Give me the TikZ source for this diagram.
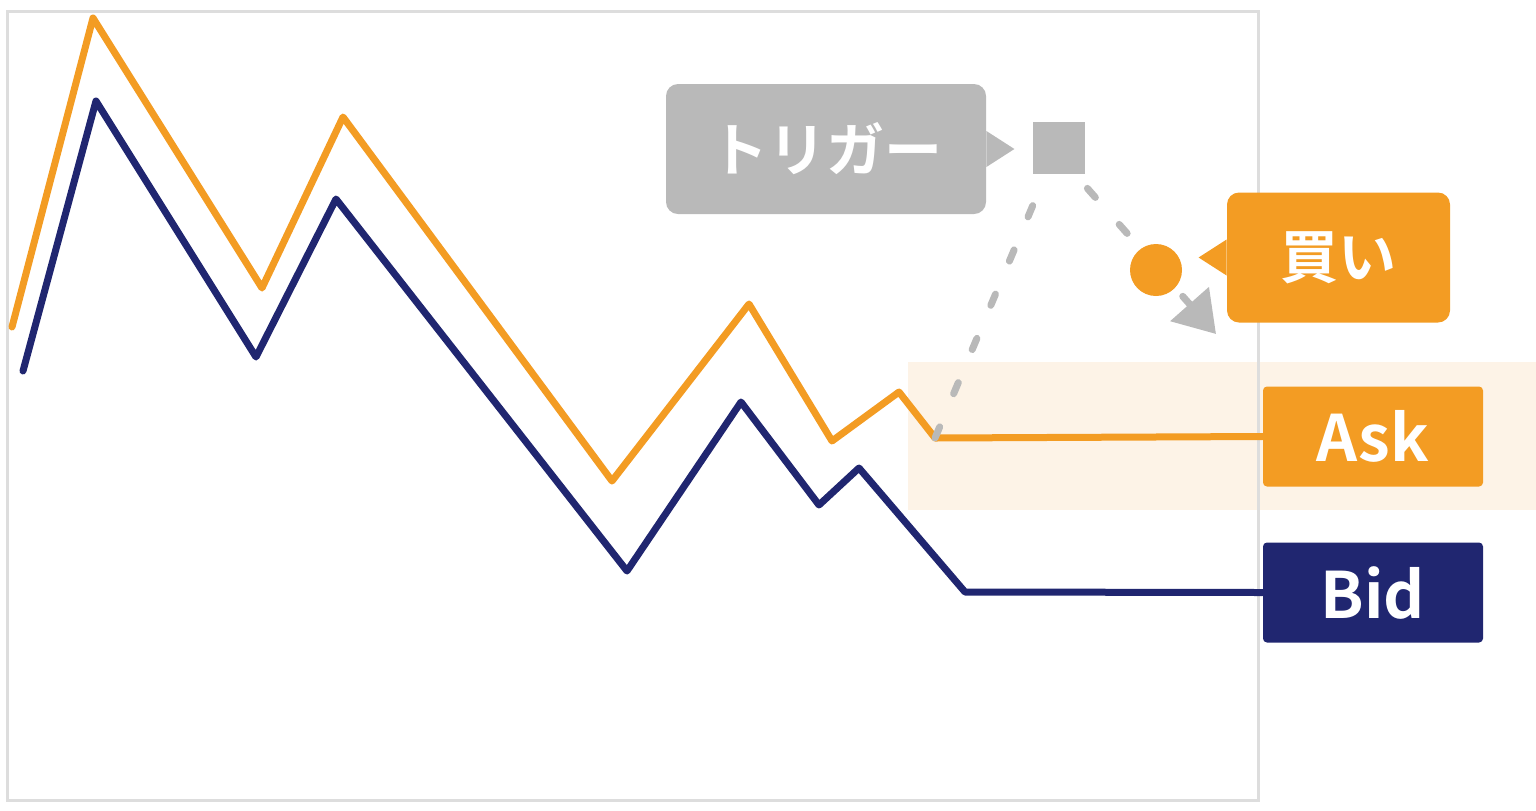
\documentclass[tikz,border=0pt]{standalone}
\usepackage{fontspec}
\setmainfont{Noto Sans CJK JP}[BoldFont={Noto Sans CJK JP Bold}]
\usetikzlibrary{positioning,arrows.meta,calc}
\definecolor{askor}{HTML}{F39C23}
\definecolor{bidnv}{HTML}{202670}
\definecolor{trgry}{HTML}{B9B9B9}
\definecolor{bandc}{HTML}{FDF3E7}
\definecolor{frmc}{HTML}{DDDDDD}

\begin{document}
\begin{tikzpicture}[x=0.5pt,y=-0.5pt,
  tag/.style={rounded corners=2pt,minimum width=110pt,minimum height=50pt,inner sep=0pt,text=white,font=\fontsize{32}{32}\selectfont\bfseries},
  bubble/.style={rounded corners=6pt,minimum height=65pt,inner sep=0pt,text=white,font=\fontsize{29}{29}\selectfont\bfseries},
  price/.style={line width=3.5pt,line join=round,line cap=round},
  hint/.style={trgry,line width=3.5pt,line cap=round,dash pattern=on 6pt off 18pt}]
\useasboundingbox (0,0) rectangle (1536,810);
\fill[bandc] (908,362) rectangle (1536,510);
\draw[frmc,line width=1.5pt] (7,11) rectangle (1258,800);
% labels on the right
\node[tag,fill=askor] (ask) at (1373,436.5) {Ask};
\node[tag,fill=bidnv] (bid) at (1373,592.5) {Bid};
% speech bubbles
\node[bubble,fill=trgry,minimum width=160pt] (trig) at (826,149) {トリガー};
\node[fill=trgry,minimum size=26pt,inner sep=0pt] (sq) at (1059,148) {};
\node[bubble,fill=askor,minimum width=111.5pt] (buy) at (1338.5,257.5) {買い};
\fill[trgry] ($(trig.east)+(0,-18)$) -- ++(28,18) -- ++(-28,18) -- cycle;
\fill[askor] ($(buy.west)+(0,-18)$) -- ++(-28,18) -- ++(28,18) -- cycle;
% prices
\draw[price,askor] (12,327) -- (93,18) -- (262,288) -- (343,117) -- (612,481) -- (749,304)
  -- (832,441) -- (899,392) -- (935,438) coordinate (askv) -- (ask.west);
\draw[price,bidnv] (23,371) -- (96,101) -- (256,357) -- (336,199) -- (627,571) -- (741,402)
  -- (819,505) -- (859,468) -- (965,592) -- (bid.west);
% trigger path
\coordinate (tip) at (1216,334);
\draw[hint] (askv) -- ($(sq.south west)+(4,22)$);
\draw[hint,-{Triangle[length=20pt,width=25pt]}] ($(sq.south east)+(2,14)$) -- (tip);
\node[circle,fill=askor,minimum size=26pt,inner sep=0pt] (dot) at (1156,270) {};
\end{tikzpicture}
\end{document}
